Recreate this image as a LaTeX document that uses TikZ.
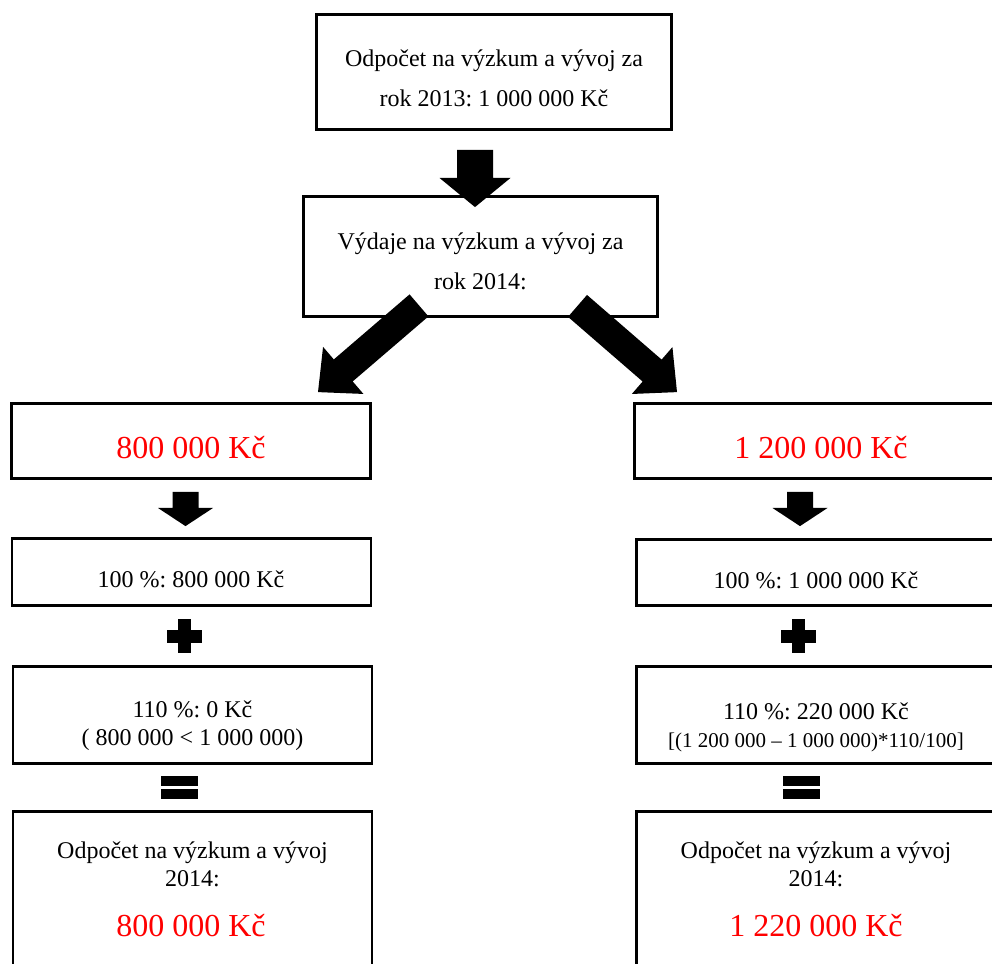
\documentclass[tikz,border=0pt]{standalone}
\usepackage{fontspec}
\setmainfont{Liberation Serif}
\usepackage{tikz}
\usetikzlibrary{calc}
\usepackage{xcolor}
\frenchspacing

% block arrow: start, tip, half shaft width, half head width, head base (fraction)
\newcommand{\blockarrow}[5]{%
  \path #1 coordinate (ba-s) #2 coordinate (ba-t);
  \coordinate (ba-h) at ($(ba-s)!#5!(ba-t)$);
  \fill ($(ba-s)!#3!90:(ba-t)$) -- ($(ba-h)!#3!90:(ba-t)$) -- ($(ba-h)!#4!90:(ba-t)$)
    -- (ba-t) -- ($(ba-h)!#4!-90:(ba-t)$) -- ($(ba-h)!#3!-90:(ba-t)$)
    -- ($(ba-s)!#3!-90:(ba-t)$) -- cycle;
}

\begin{document}
\begin{tikzpicture}[x=1pt, y=-1pt,
    box/.style={draw, line width=2.8pt, fill=white, inner sep=0pt, minimum width=359},
    txt/.style={font=\fontsize{24}{28}\selectfont, align=center, inner sep=0pt},
    wide/.style={font=\fontsize{24}{40}\selectfont, align=center, inner sep=0pt},
    val/.style={font=\fontsize{32}{36}\selectfont, text=red, inner sep=0pt}]
    \useasboundingbox (0,0) rectangle (992,963);
    \clip (0,0) rectangle (992,963);

    % Boxes
    \node[box, minimum width=355, minimum height=115] (top) at (494,72) {};
    \node[box, minimum width=354, minimum height=120] (mid) at (480.5,256.5) {};
    \node[box, minimum height=75] (l1) at (191,441) {};
    \node[box, minimum height=67] (l2) at (191.5,572) {};
    \node[box, minimum height=97] (l3) at (192.5,715) {};
    \node[box, minimum height=167] (l4) at (192.5,895) {};
    \node[box, minimum height=75] (r1) at (814,441) {};
    \node[box, minimum height=66] (r2) at (816,572.5) {};
    \node[box, minimum height=97] (r3) at (816,715) {};
    \node[box, minimum height=167] (r4) at (816,895) {};

    % Texts
    \node[wide] (top-t) at (494,78) {Odpočet na výzkum a vývoj za\\rok 2013: 1 000 000 Kč};
    \node[wide] (mid-t) at (480.5,261) {Výdaje na výzkum a vývoj za\\rok 2014:};
    \node[val] (l1-t) at (191,448) {800 000 Kč};
    \node[val] (r1-t) at (821,448) {1 200 000 Kč};
    \node[txt] (l2-t) at (191,579) {100 \%: 800 000 Kč};
    \node[txt] (r2-t) at (816,580) {100 \%: 1 000 000 Kč};
    \node[txt] (l3-t) at (192.5,726) {110 \%: 0 Kč\\( 800 000 < 1 000 000)};
    \node[txt] (r3-t) at (816,727) {110 \%: 220 000 Kč\\{\fontsize{21}{24}\selectfont [(1 200 000 – 1 000 000)*110/100]}};
    \node[txt] (l4-t) at (192.5,864.5) {Odpočet na výzkum a vývoj\\2014:};
    \node[txt] (r4-t) at (816,864.5) {Odpočet na výzkum a vývoj\\2014:};
    \node[val] (l4-v) at (191,926) {800 000 Kč};
    \node[val] (r4-v) at (816,926) {1 220 000 Kč};

    % Block arrows
    \blockarrow{($(top.south)+(-19,19)$)}{($(mid.north)+(-5.5,12)$)}{18pt}{35.5pt}{0.49}
    \blockarrow{($(mid.south)+(-61.5,-12.5)$)}{($(l1.north)+(127,-10)$)}{14.5pt}{31pt}{0.75}
    \blockarrow{($(mid.south)+(97,-12)$)}{($(r1.north)+(-137,-10)$)}{14.5pt}{31pt}{0.75}
    \blockarrow{($(l1.south)+(-5.5,12)$)}{($(l2.north)+(-6,-11)$)}{13pt}{27.5pt}{0.47}
    \blockarrow{($(r1.south)+(-14,12)$)}{($(r2.north)+(-16,-12)$)}{13pt}{27.5pt}{0.47}

    % Plus and equal signs
    \foreach \px/\ex in {184.5/179.5, 798.5/801.5} {
        \fill (\px-17.5,629.5) rectangle (\px+17.5,642.5);
        \fill (\px-6.5,619) rectangle (\px+6.5,653);
        \fill (\ex-18.5,775.5) rectangle (\ex+18.5,786);
        \fill (\ex-18.5,788.5) rectangle (\ex+18.5,799);
    }
\end{tikzpicture}
\end{document}
